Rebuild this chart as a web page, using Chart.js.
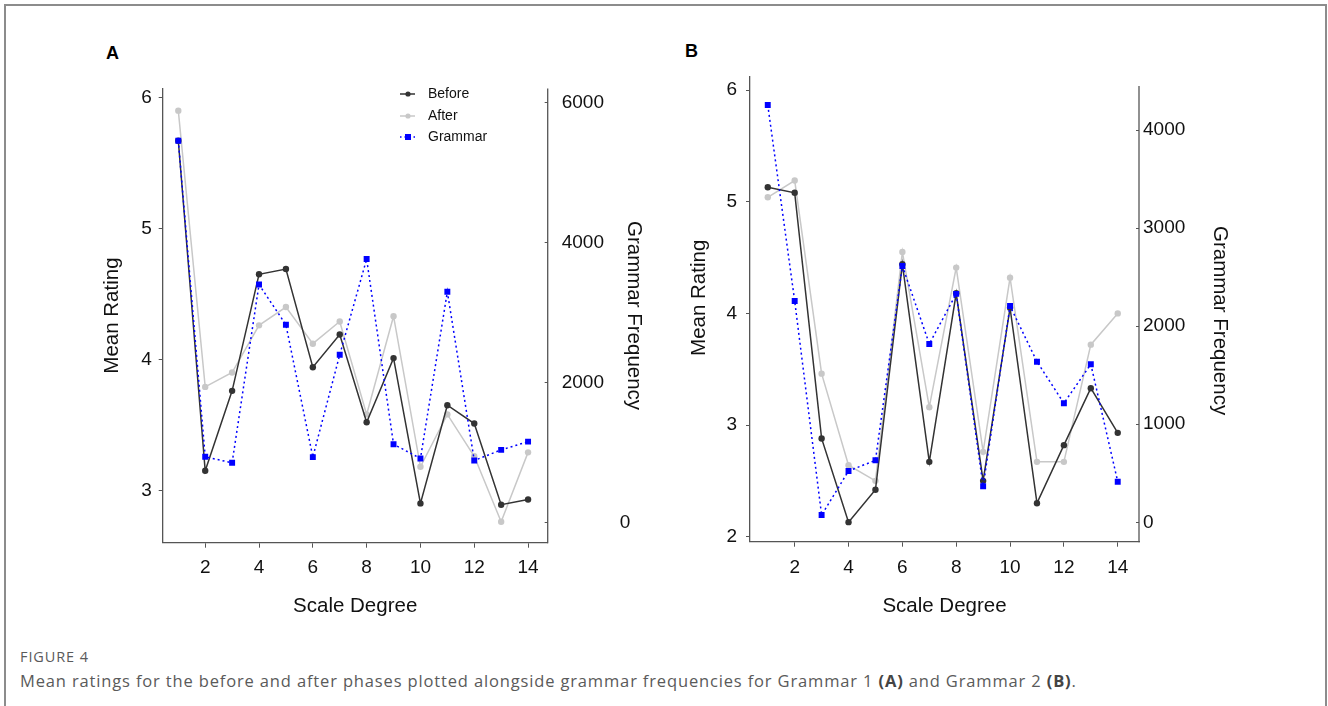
<!DOCTYPE html>
<html>
<head>
<meta charset="utf-8">
<script src="https://cdn.jsdelivr.net/npm/chart.js@4.4.1/dist/chart.umd.min.js"></script>
<style>
  html, body { margin: 0; padding: 0; background: #fff; width: 1328px; height: 706px; overflow: hidden; }
  .frame { position: absolute; left: 4px; top: 4px; width: 1323px; height: 760px; border: 2px solid #8c8c8c; box-sizing: border-box; }
  .panel { position: absolute; }
  .tag { position: absolute; font: bold 18px "Liberation Sans", Arial, sans-serif; color: #000; }
  .legend { position: absolute; font: 14px "Liberation Sans", Arial, sans-serif; color: #111; }
  .legend .item { position: relative; height: 21.7px; line-height: 21.7px; padding-left: 30px; }
  .legend svg { position: absolute; left: 0; top: 5px; }
  .caption-head { position: absolute; left: 20px; top: 647px; font: 14.5px "Open Sans", sans-serif; color: #5a5a5a; letter-spacing: 0.9px; }
  .caption { position: absolute; left: 20px; top: 669px; font: 16.5px "Open Sans", sans-serif; color: #5a5a5a; letter-spacing: 0.85px; white-space: nowrap; }
  .caption b { color: #444; }
</style>
</head>
<body>
<div class="frame"></div>
<div class="tag" style="left:106px; top:43px;">A</div>
<div class="tag" style="left:685px; top:41px;">B</div>
<canvas id="chart-a" class="panel" width="620" height="570" style="left:60px; top:60px;"></canvas>
<canvas id="chart-b" class="panel" width="630" height="580" style="left:650px; top:50px;"></canvas>
<div id="legend-a" class="legend" style="left:398px; top:83px;"></div>
<div class="caption-head">FIGURE 4</div>
<div class="caption">Mean ratings for the before and after phases plotted alongside grammar frequencies for Grammar 1 <b>(A)</b> and Grammar 2 <b>(B)</b>.</div>

<script>
// scale degree on the x axis
const degrees = [1, 2, 3, 4, 5, 6, 7, 8, 9, 10, 11, 12, 13, 14];

// Grammar 1 (panel A)
const beforeA = [5.67, 3.15, 3.76, 4.65, 4.69, 3.94, 4.19, 3.52, 4.01, 2.90, 3.65, 3.51, 2.89, 2.93];
const afterA = [5.90, 3.79, 3.90, 4.26, 4.40, 4.12, 4.29, 3.58, 4.33, 3.18, 3.58, 3.26, 2.76, 3.29];
const grammarA = [5455, 938, 853, 3400, 2824, 934, 2396, 3764, 1118, 914, 3297, 886, 1037, 1155];

// Grammar 2 (panel B)
const beforeB = [5.13, 5.08, 2.88, 2.13, 2.42, 4.44, 2.67, 4.18, 2.50, 4.05, 2.30, 2.82, 3.33, 2.93];
const afterB = [5.04, 5.19, 3.46, 2.64, 2.50, 4.55, 3.16, 4.41, 2.76, 4.32, 2.67, 2.67, 3.72, 4.00];
const grammarB = [4256, 2257, 74, 523, 632, 2614, 1819, 2329, 367, 2206, 1638, 1214, 1612, 414];

// tick labels
const xTicks = [2, 4, 6, 8, 10, 12, 14];
const ratingTicksA = [3, 4, 5, 6];
const freqTicksA = [0, 2000, 4000, 6000];
const ratingTicksB = [2, 3, 4, 5, 6];
const freqTicksB = [0, 1000, 2000, 3000, 4000];

const series = [
    { label: 'Before', color: '#333333', style: 'circle', radius: 3.2, dash: [], order: 1 },
    { label: 'After', color: '#c8c8c8', style: 'circle', radius: 3.2, dash: [], order: 2 },
    { label: 'Grammar', color: '#0000ff', style: 'rect', radius: 4.2, dash: [2, 3], order: 0 },
];

const axisColor = '#555555';
const textColor = '#111111';
const tickFont = { family: '"Liberation Sans", Arial, sans-serif', size: 19 };
const titleFont = { family: '"Liberation Sans", Arial, sans-serif', size: 20.5 };

const toPoints = (values) => values.map((v, i) => ({ x: degrees[i], y: v }));
const fixTicks = (values) => (scale) => {
    scale.ticks = values.map((v) => ({ value: v }));
};
const fixWidth = (w) => (scale) => {
    scale.width = w;
};
const fixHeight = (h) => (scale) => {
    scale.height = h;
};

// right axis line that stops short of the chart top, as in the figure
const rightAxisLine = {
    id: 'rightAxisLine',
    afterDraw(chart, args, opts) {
        const scale = chart.scales.y2;
        const { ctx } = chart;
        ctx.save();
        ctx.strokeStyle = axisColor;
        ctx.lineWidth = 1.3;
        ctx.beginPath();
        ctx.moveTo(scale.left, scale.getPixelForValue(opts.top));
        ctx.lineTo(scale.left, chart.chartArea.bottom + 0.65);
        ctx.stroke();
        ctx.restore();
    },
};

const makeDataset = (s, values, axis) => ({
    label: s.label,
    data: toPoints(values),
    yAxisID: axis,
    borderColor: s.color,
    backgroundColor: s.color,
    borderWidth: 1.5,
    borderDash: s.dash,
    pointStyle: s.style,
    pointRadius: s.radius,
    pointBorderWidth: 0,
    pointHoverRadius: s.radius,
    tension: 0,
    order: s.order,
});

const renderPanel = (canvasId, p) => {
    const canvas = document.getElementById(canvasId);

    new Chart(canvas, {
        type: 'line',
        data: {
            datasets: [
                makeDataset(series[0], p.before, 'y'),
                makeDataset(series[1], p.after, 'y'),
                makeDataset(series[2], p.grammar, 'y2'),
            ],
        },
        options: {
            responsive: false,
            animation: false,
            layout: { padding: { top: p.top, left: 0, right: 0, bottom: 0 } },
            plugins: {
                legend: { display: false },
                tooltip: { enabled: false },
                rightAxisLine: { top: p.y2LineTop },
            },
            scales: {
                x: {
                    type: 'linear',
                    min: p.xMin,
                    max: p.xMax,
                    afterBuildTicks: fixTicks(xTicks),
                    afterFit: fixHeight(p.xHeight),
                    grid: { drawOnChartArea: false, tickLength: 5, color: axisColor },
                    border: { color: axisColor, width: 1.3 },
                    ticks: { font: tickFont, color: textColor, padding: p.xPad, maxRotation: 0 },
                    title: { display: true, text: 'Scale Degree', font: titleFont, color: textColor, padding: { top: 0, bottom: 11.7 } },
                },
                y: {
                    position: 'left',
                    min: p.yMin,
                    max: p.yMax,
                    afterBuildTicks: fixTicks(p.ratingTicks),
                    afterFit: fixWidth(p.yWidth),
                    grid: { drawOnChartArea: false, tickLength: 4, color: axisColor },
                    border: { color: axisColor, width: 1.3 },
                    ticks: { font: tickFont, color: textColor, padding: p.yPad },
                    title: { display: true, text: p.yTitle, font: titleFont, color: textColor, padding: { top: p.yTitlePad, bottom: 0 } },
                },
                y2: {
                    position: 'right',
                    min: p.y2Min,
                    max: p.y2Max,
                    afterBuildTicks: fixTicks(p.freqTicks),
                    afterFit: fixWidth(p.y2Width),
                    grid: { drawOnChartArea: false, tickLength: -3, color: axisColor },
                    border: { display: false },
                    ticks: { font: tickFont, color: textColor, padding: p.y2Pad, callback: p.freqLabel },
                    title: { display: true, text: p.y2Title, font: titleFont, color: textColor, padding: { top: p.y2TitlePad, bottom: 0 } },
                },
            },
        },
        plugins: [rightAxisLine],
    });
};

const renderLegend = (el) => {
    series.forEach((s) => {
        const item = document.createElement('div');
        item.className = 'item';
        const marker = s.style === 'rect'
            ? `<rect x="7" y="3" width="6" height="6" fill="${s.color}"/>`
            : `<circle cx="10" cy="6" r="2.6" fill="${s.color}"/>`;
        const dash = s.dash.length ? ` stroke-dasharray="1.5 3"` : '';
        item.innerHTML = `<svg width="22" height="12"><line x1="2" y1="6" x2="17" y2="6" stroke="${s.color}" stroke-width="1.5"${dash}/>${marker}</svg><span>${s.label}</span>`;
        el.appendChild(item);
    });
};

renderPanel('chart-a', {
    before: beforeA, after: afterA, grammar: grammarA,
    ratingTicks: ratingTicksA, freqTicks: freqTicksA,
    freqLabel: (v) => (v === 0 ? '           0' : String(v)),
    yTitle: 'Mean Rating', y2Title: 'Grammar Frequency',
    top: 24, xMin: 0.42, xMax: 14.73, yMin: 2.60, yMax: 6.07, y2Min: -289, y2Max: 6202, y2LineTop: 6202,
    yWidth: 102.7, y2Width: 132.3, xHeight: 87.3,
    xPad: 9, yPad: 7, y2Pad: 17, yTitlePad: 39.7, y2TitlePad: 33.7,
});

renderPanel('chart-b', {
    before: beforeB, after: afterB, grammar: grammarB,
    ratingTicks: ratingTicksB, freqTicks: freqTicksB,
    freqLabel: (v) => String(v),
    yTitle: '    Mean Rating', y2Title: '    Grammar Frequency',
    top: 26.7, xMin: 0.34, xMax: 14.79, yMin: 1.955, yMax: 6.12, y2Min: -198, y2Max: 4544, y2LineTop: 4450,
    yWidth: 100, y2Width: 141, xHeight: 88.3,
    xPad: 10, yPad: 9, y2Pad: 7, yTitlePad: 36.7, y2TitlePad: 47.7,
});

renderLegend(document.getElementById('legend-a'));
</script>
</body>
</html>
